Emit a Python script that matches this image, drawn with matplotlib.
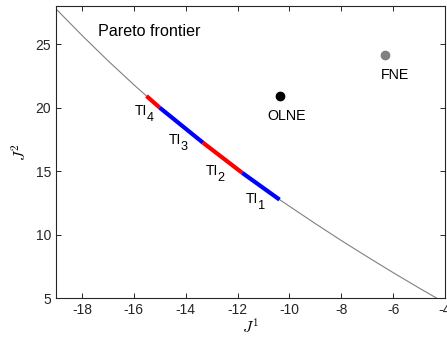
import matplotlib
matplotlib.use("Agg")
import matplotlib.pyplot as plt

plt.rcParams['font.family'] = ['Liberation Sans', 'DejaVu Sans']

# Pareto frontier curve (J1, J2)
front_j1 = [-19.0, -18.0, -17.0, -16.0, -15.51, -15.0, -13.33, -11.82, -10.38,
            -9.0, -8.0, -7.0, -6.0, -5.0, -4.33]
front_j2 = [27.77, 25.69, 23.70, 21.80, 20.91, 19.99, 17.23, 14.86, 12.75,
            10.86, 9.53, 8.25, 7.0, 5.79, 5.0]

# Time-inconsistency segments along the frontier
seg_names = ["4", "3", "2", "1"]
seg_j1 = [(-15.51, -15.0), (-15.0, -13.33), (-13.33, -11.82), (-11.82, -10.38)]
seg_j2 = [(20.91, 19.99), (19.99, 17.23), (17.23, 14.86), (14.86, 12.75)]
seg_colors = ["#ff0000", "#0000ff", "#ff0000", "#0000ff"]
seg_label_x = [-15.97, -14.65, -13.22, -11.68]
seg_label_y = [19.75, 17.45, 15.0, 12.76]

# Equilibria
olne = (-10.35, 20.91)
fne = (-6.31, 24.13)

xticks = [-18, -16, -14, -12, -10, -8, -6, -4]
yticks = [5, 10, 15, 20, 25]

fig = plt.figure(figsize=(4.47, 3.39), dpi=100)
ax = fig.add_axes([0.1253, 0.1209, 0.8702, 0.8614])

ax.plot(front_j1, front_j2, color="#808080", lw=0.8, zorder=2)
for (x0, x1), (y0, y1), c in zip(seg_j1, seg_j2, seg_colors):
    ax.plot([x0, x1], [y0, y1], color=c, lw=3.0, solid_capstyle='butt', zorder=3)
for name, lx, ly in zip(seg_names, seg_label_x, seg_label_y):
    ax.text(lx, ly, "TI", ha='left', va='center', fontsize=10)
    ax.annotate(name, (lx, ly), xytext=(8.6, -5.0), textcoords='offset points',
                ha='left', va='center', fontsize=9.2)

ax.plot(*olne, 'o', color='black', ms=6, zorder=4)
ax.plot(*fne, 'o', color='#808080', ms=6, zorder=4)
ax.text(olne[0] + 0.26, olne[1] - 1.6, "OLNE", ha='center', va='center', fontsize=10.3)
ax.text(fne[0] + 0.39, fne[1] - 1.6, "FNE", ha='center', va='center', fontsize=10.3)
ax.text(-17.38, 26.0, "Pareto frontier", ha='left', va='center', fontsize=11.6)

ax.set_xlim(-19, -4)
ax.set_ylim(5, 28)
ax.set_xticks(xticks)
ax.set_yticks(yticks)
ax.set_xticklabels([str(t) for t in xticks])
ax.set_yticklabels([str(t) for t in yticks])
ax.tick_params(direction='in', top=True, right=True, length=3.5, width=0.7,
               labelsize=10, colors='#262626', labelcolor='#262626')
for s in ax.spines.values():
    s.set_linewidth(0.8)
    s.set_color('#262626')

ax.set_xlabel("$J^1$", fontsize=11.5, math_fontfamily='cm', labelpad=0)
ax.set_ylabel("$J^2$", fontsize=11.5, math_fontfamily='cm', labelpad=5)

fig.savefig("out.png", dpi=100)
